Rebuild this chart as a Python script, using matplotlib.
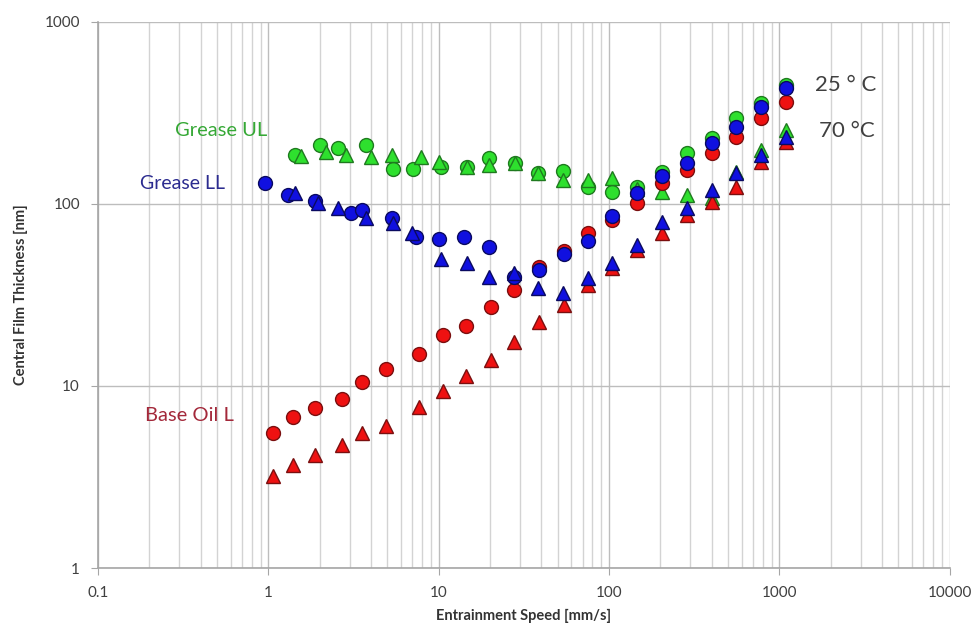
import matplotlib.pyplot as plt
from matplotlib.ticker import LogLocator, FixedLocator, NullFormatter

# Base Oil L (red)
oil_speed = [1.06, 1.40, 1.89, 2.69, 3.57, 4.94, 7.63, 10.6, 14.4, 20.2, 27.6,
             38.7, 54.4, 75.2, 104, 146, 205, 288, 404, 558, 784, 1099]
oil_25 = [5.52, 6.76, 7.57, 8.48, 10.5, 12.4, 15.0, 19.1, 21.4, 27.2, 33.7,
          45.1, 55.2, 69.3, 81.6, 101, 130, 154, 191, 233, 297, 363]
oil_70 = [3.20, 3.68, 4.18, 4.74, 5.52, 6.03, 7.67, 9.39, 11.3, 13.9, 17.5,
          22.5, 27.9, 35.9, 44.5, 55.9, 69.3, 87.0, 103, 124, 170, 219]

# Grease LL (blue)
ll_speed_25 = [0.96, 1.31, 1.89, 3.04, 3.57, 5.29, 7.32, 10.0, 14.0, 19.7, 27.6,
               38.7, 54.4, 75.2, 104, 146, 205, 288, 404, 558, 784, 1099]
ll_25 = [130, 112, 104, 89.3, 92.7, 83.7, 65.9, 64.2, 65.9, 58.0, 39.7,
         43.4, 53.1, 62.6, 85.9, 115, 142, 168, 216, 265, 341, 434]
ll_speed_70 = [1.44, 1.97, 2.55, 3.72, 5.36, 6.93, 10.3, 14.6, 19.7, 27.6, 38.2,
               53.6, 75.2, 104, 146, 205, 288, 404, 558, 784, 1099]
ll_70 = [115, 101, 95, 83.7, 78.6, 69.3, 49.9, 47.4, 39.7, 41.8, 34.5,
         32.4, 39.2, 47.4, 59.5, 79.6, 95, 119, 148, 186, 233]

# Grease UL (green)
ul_speed_25 = [1.44, 2.02, 2.58, 3.72, 5.43, 7.03, 10.3, 14.6, 19.7, 28.0, 38.2,
               53.6, 75.2, 104, 146, 205, 288, 404, 558, 784, 1099]
ul_25 = [186, 211, 203, 211, 156, 156, 160, 160, 179, 168, 148,
         152, 124, 116, 124, 150, 191, 231, 297, 359, 451]
ul_speed_70 = [1.56, 2.19, 2.84, 4.03, 5.29, 7.84, 10.1, 14.6, 19.7, 28.0, 38.2,
               53.6, 75.2, 104, 146, 205, 288, 404, 558, 784, 1099]
ul_70 = [184, 193, 186, 181, 186, 181, 170, 160, 164, 168, 148,
         135, 135, 139, 121, 116, 112, 108, 150, 198, 255]

plt.rcParams['font.family'] = ['Lato', 'DejaVu Sans']

fig = plt.figure(figsize=(9.75, 6.35), dpi=100)
ax = fig.add_axes([0.1005, 0.1055, 0.8735, 0.86])

green = dict(color='#2ee02e', mec='#1f7a1f')
red = dict(color='#ee1111', mec='#7a0f0f')
blue = dict(color='#1010e0', mec='#0a0a60')
ms = 10

ax.plot(ul_speed_25, ul_25, 'o', ms=ms, mew=1, **green, zorder=3)
ax.plot(ul_speed_70, ul_70, '^', ms=ms, mew=1, **green, zorder=3)
ax.plot(oil_speed, oil_25, 'o', ms=ms, mew=1, **red, zorder=4)
ax.plot(oil_speed, oil_70, '^', ms=ms, mew=1, **red, zorder=4)
ax.plot(ll_speed_25, ll_25, 'o', ms=ms, mew=1, **blue, zorder=5)
ax.plot(ll_speed_70, ll_70, '^', ms=ms, mew=1, **blue, zorder=5)

ax.set_xscale('log')
ax.set_yscale('log')
ax.set_xlim(0.1, 10000)
ax.set_ylim(1, 1000)

ax.xaxis.set_major_locator(FixedLocator([0.1, 1, 10, 100, 1000, 10000]))
ax.xaxis.set_minor_locator(LogLocator(base=10, subs=range(2, 10)))
ax.xaxis.set_minor_formatter(NullFormatter())
ax.set_xticklabels(['0.1', '1', '10', '100', '1000', '10000'])
ax.yaxis.set_major_locator(FixedLocator([1, 10, 100, 1000]))
ax.yaxis.set_minor_locator(FixedLocator([]))
ax.set_yticklabels(['1', '10', '100', '1000'])

ax.grid(True, which='major', axis='both', color='#bdbdbd', lw=1)
ax.grid(True, which='minor', axis='x', color='#d3d3d3', lw=1)
ax.set_axisbelow(True)

for s in ['top', 'right']:
    ax.spines[s].set_visible(False)
for s in ['left', 'bottom']:
    ax.spines[s].set_color('#a6a6a6')
    ax.spines[s].set_linewidth(1.2)

ax.tick_params(axis='both', which='major', length=5, color='#a6a6a6',
               labelsize=11, labelcolor='#404040', pad=8)
ax.tick_params(axis='x', which='minor', length=0)

ax.set_xlabel('Entrainment Speed [mm/s]', fontsize=10.5, fontweight='bold',
              color='#333333', labelpad=6)
ax.set_ylabel('Central Film Thickness [nm]', fontsize=10.5, fontweight='bold',
              color='#333333', labelpad=12)

ax.text(0.090, 0.802, 'Grease UL', transform=ax.transAxes, fontsize=14.5,
        color='#35a835', va='center')
ax.text(0.049, 0.705, 'Grease LL', transform=ax.transAxes, fontsize=14,
        color='#2b2b8f', va='center')
ax.text(0.055, 0.280, 'Base Oil L', transform=ax.transAxes, fontsize=14.5,
        color='#a3283a', va='center')
ax.text(0.842, 0.885, '25 ° C', transform=ax.transAxes, fontsize=16,
        color='#404040', va='center')
ax.text(0.847, 0.800, '70 °C', transform=ax.transAxes, fontsize=16,
        color='#404040', va='center')

plt.savefig('out.png', dpi=100)
